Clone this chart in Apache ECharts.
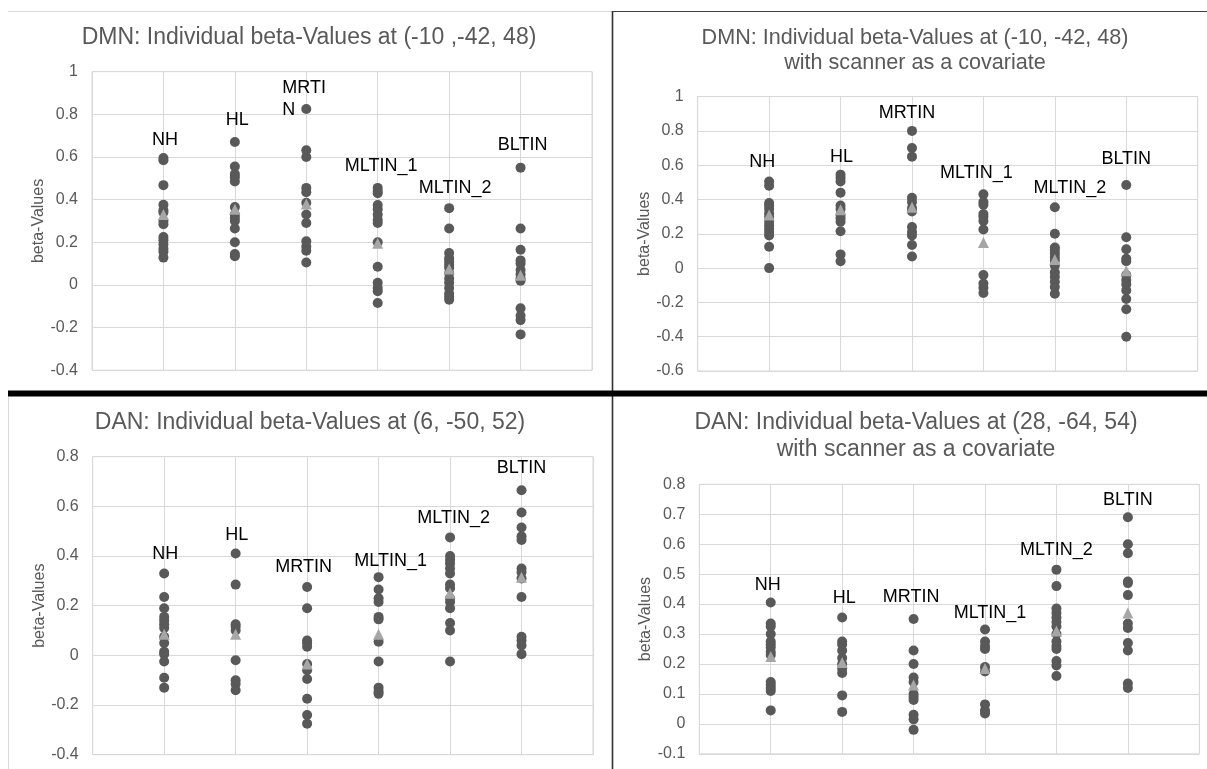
<!DOCTYPE html>
<html><head><meta charset="utf-8">
<script src="https://cdn.jsdelivr.net/npm/echarts@6/dist/echarts.min.js"></script>
<style>html,body{margin:0;padding:0;background:#fff}#c{width:1207px;height:769px}</style>
</head><body><div id="c"></div>
<script>
// ---------------- DATA ----------------
const categories = ['NH', 'HL', 'MRTIN', 'MLTIN_1', 'MLTIN_2', 'BLTIN'];
const yAxisName = 'beta-Values';

// Panel 1: DMN (-10, -42, 48)
const p1Title = 'DMN: Individual beta-Values at (-10 ,-42, 48)';
const p1LabelText = ['NH', 'HL', 'MRTI\nN', 'MLTIN_1', 'MLTIN_2', 'BLTIN'];
const p1Betas = [
  [0.595, 0.585, 0.468, 0.376, 0.35, 0.34, 0.30, 0.285, 0.225, 0.21, 0.19, 0.17, 0.155, 0.128],
  [0.67, 0.555, 0.52, 0.505, 0.485, 0.365, 0.33, 0.315, 0.30, 0.265, 0.2, 0.145, 0.135],
  [0.825, 0.632, 0.60, 0.455, 0.435, 0.385, 0.33, 0.29, 0.205, 0.18, 0.16, 0.105],
  [0.455, 0.44, 0.43, 0.375, 0.355, 0.33, 0.305, 0.29, 0.2, 0.085, 0.01, -0.015, -0.03, -0.085],
  [0.36, 0.265, 0.15, 0.125, 0.11, 0.095, 0.08, 0.055, 0.03, 0.01, -0.015, -0.04, -0.055, -0.07],
  [0.55, 0.265, 0.165, 0.115, 0.1, 0.07, 0.05, 0.03, 0.02, -0.11, -0.145, -0.165, -0.232]
];
const p1Means = [0.33, 0.355, 0.38, 0.195, 0.075, 0.045];
const p1YTicks = { min: -0.4, max: 1, interval: 0.2 };

// Panel 2: DMN (-10, -42, 48) with scanner covariate
const p2Title = 'DMN: Individual beta-Values at (-10, -42, 48)\nwith scanner as a covariate';
const p2Betas = [
  [0.505, 0.48, 0.38, 0.365, 0.345, 0.32, 0.30, 0.27, 0.25, 0.23, 0.21, 0.19, 0.125, 0.0],
  [0.545, 0.525, 0.505, 0.44, 0.365, 0.345, 0.31, 0.29, 0.27, 0.215, 0.08, 0.04],
  [0.8, 0.7, 0.65, 0.41, 0.385, 0.35, 0.33, 0.24, 0.21, 0.19, 0.135, 0.068],
  [0.43, 0.385, 0.37, 0.315, 0.3, 0.275, 0.225, -0.04, -0.09, -0.115, -0.145],
  [0.355, 0.2, 0.12, 0.105, 0.085, 0.065, 0.045, 0.015, -0.025, -0.05, -0.08, -0.11, -0.15],
  [0.485, 0.18, 0.11, 0.055, 0.04, -0.04, -0.07, -0.095, -0.13, -0.18, -0.24, -0.4]
];
const p2Means = [0.31, 0.34, 0.355, 0.15, 0.05, -0.015];
const p2YTicks = { min: -0.6, max: 1, interval: 0.2 };

// Panel 3: DAN (6, -50, 52)
const p3Title = 'DAN: Individual beta-Values at (6, -50, 52)';
const p3Betas = [
  [0.33, 0.235, 0.19, 0.155, 0.14, 0.125, 0.11, 0.075, 0.05, 0.015, 0.005, -0.025, -0.09, -0.13],
  [0.41, 0.285, 0.125, 0.115, 0.1, -0.02, -0.1, -0.115, -0.14],
  [0.275, 0.19, 0.06, 0.05, 0.035, -0.035, -0.06, -0.095, -0.175, -0.24, -0.275],
  [0.315, 0.265, 0.23, 0.215, 0.155, 0.145, 0.055, -0.025, -0.13, -0.145, -0.155],
  [0.475, 0.4, 0.385, 0.37, 0.35, 0.33, 0.285, 0.27, 0.23, 0.215, 0.19, 0.13, 0.1, -0.025],
  [0.665, 0.575, 0.515, 0.48, 0.465, 0.35, 0.335, 0.31, 0.235, 0.075, 0.06, 0.04, 0.005]
];
const p3Means = [0.085, 0.085, -0.035, 0.085, 0.25, 0.315];
const p3YTicks = { min: -0.4, max: 0.8, interval: 0.2 };

// Panel 4: DAN (28, -64, 54) with scanner covariate
const p4Title = 'DAN: Individual beta-Values at (28, -64, 54)\nwith scanner as a covariate';
const p4Betas = [
  [0.405, 0.335, 0.325, 0.3, 0.275, 0.265, 0.255, 0.24, 0.23, 0.14, 0.13, 0.12, 0.11, 0.045],
  [0.355, 0.275, 0.265, 0.245, 0.22, 0.2, 0.185, 0.17, 0.095, 0.04],
  [0.35, 0.245, 0.2, 0.155, 0.14, 0.1, 0.09, 0.08, 0.03, 0.015, -0.02],
  [0.315, 0.275, 0.26, 0.25, 0.19, 0.175, 0.065, 0.045, 0.035],
  [0.515, 0.46, 0.385, 0.37, 0.355, 0.34, 0.325, 0.3, 0.275, 0.26, 0.25, 0.21, 0.195, 0.16],
  [0.69, 0.6, 0.57, 0.475, 0.47, 0.43, 0.335, 0.32, 0.27, 0.245, 0.135, 0.12]
];
const p4Means = [0.225, 0.205, 0.13, 0.185, 0.31, 0.37];
const p4YTicks = { min: -0.1, max: 0.8, interval: 0.1 };

// ---------------- LAYOUT / STYLE ----------------
const FONT = '"Liberation Sans", Arial, sans-serif';
const GRAY_TXT = '#595959';
const GRID_C = '#d9d9d9';
const DOT_C = '#595959';
const MEAN_C = '#a6a6a6';

const panels = [
  { title: p1Title, titleX: 309, titleY: 24, titleLH: 27, titleFS: 23,
    grid: { left: 92, top: 71.7, width: 500, height: 298.5 },
    betas: p1Betas, means: p1Means, ticks: p1YTicks, labels: p1LabelText,
    offs: [[1.5, -18], [2.5, -22], null, [3.5, -22], [6, -20], [2, -23]] },
  { title: p2Title, titleX: 915, titleY: 25.5, titleLH: 25, titleFS: 21.6,
    grid: { left: 697.7, top: 96.6, width: 500, height: 274.4 },
    betas: p2Betas, means: p2Means, ticks: p2YTicks, labels: categories,
    offs: [[-7, -19.5], [1, -18], [-5, -18], [-7, -21.5], [15, -19], [0, -26]] },
  { title: p3Title, titleX: 310, titleY: 409.5, titleLH: 27, titleFS: 23,
    grid: { left: 92.7, top: 456.7, width: 500.3, height: 298 },
    betas: p3Betas, means: p3Means, ticks: p3YTicks, labels: categories,
    offs: [[1, -19.5], [1, -18.5], [-3.5, -20], [12, -16], [3.5, -19.5], [0, -22]] },
  { title: p4Title, titleX: 916, titleY: 409.5, titleLH: 27, titleFS: 23,
    grid: { left: 699.3, top: 484.3, width: 500, height: 269.5 },
    betas: p4Betas, means: p4Means, ticks: p4YTicks, labels: categories,
    offs: [[-3, -17.5], [2, -19.5], [-2.5, -22], [5, -16], [0, -19.5], [0, -17]] }
];

const option = {
  animation: false,
  backgroundColor: '#fff',
  textStyle: { fontFamily: FONT },
  title: [], grid: [], xAxis: [], yAxis: [], series: [],
  graphic: [
    { type: 'line', shape: { x1: 8, y1: 11.5, x2: 612, y2: 11.5 }, style: { stroke: GRID_C, lineWidth: 1 }, silent: true },
    { type: 'line', shape: { x1: 8.5, y1: 397, x2: 8.5, y2: 769 }, style: { stroke: GRID_C, lineWidth: 1 }, silent: true },
    { type: 'line', shape: { x1: 612, y1: 11.5, x2: 1207, y2: 11.5 }, style: { stroke: '#404040', lineWidth: 1.2 }, silent: true },
    { type: 'line', shape: { x1: 612.5, y1: 11, x2: 612.5, y2: 769 }, style: { stroke: '#303030', lineWidth: 1.6 }, silent: true },
    { type: 'rect', shape: { x: 8, y: 390.5, width: 1199, height: 6 }, style: { fill: '#000' }, silent: true }
  ]
};

panels.forEach((p, i) => {
  option.title.push({
    text: p.title, left: p.titleX, top: p.titleY, textAlign: 'center', padding: 0,
    textStyle: { fontFamily: FONT, fontSize: p.titleFS, fontWeight: 'normal', color: GRAY_TXT, lineHeight: p.titleLH }
  });
  option.grid.push(Object.assign({ show: true, borderColor: GRID_C, borderWidth: 1, containLabel: false }, p.grid));
  option.xAxis.push({
    type: 'value', gridIndex: i, min: 0, max: categories.length + 1, interval: 1,
    axisLine: { show: false }, axisTick: { show: false }, axisLabel: { show: false },
    splitLine: { show: true, lineStyle: { color: GRID_C, width: 1 } }
  });
  option.yAxis.push({
    type: 'value', gridIndex: i, min: p.ticks.min, max: p.ticks.max, interval: p.ticks.interval,
    name: yAxisName, nameLocation: 'middle', nameGap: 45,
    nameTextStyle: { fontFamily: FONT, fontSize: 16, color: GRAY_TXT },
    axisLine: { show: false }, axisTick: { show: false },
    axisLabel: { fontFamily: FONT, fontSize: 16, color: GRAY_TXT, margin: 14 },
    splitLine: { show: true, lineStyle: { color: GRID_C, width: 1 } }
  });

  const dots = [];
  p.betas.forEach((vals, ci) => {
    const top = Math.max.apply(null, vals);
    let labeled = false;
    vals.forEach(v => {
      const item = { value: [ci + 1, v] };
      if (!labeled && v === top) {
        labeled = true;
        const off = p.offs[ci];
        if (off) {
          item.label = { show: true, position: 'inside', offset: off, formatter: p.labels[ci],
            fontFamily: FONT, fontSize: 18, color: '#000', align: 'center', verticalAlign: 'middle' };
        } else {
          item.label = { show: true, position: 'inside', offset: [-24, -10], formatter: p.labels[ci],
            fontFamily: FONT, fontSize: 18, color: '#000', align: 'left', verticalAlign: 'middle', lineHeight: 22 };
        }
      }
      dots.push(item);
    });
  });
  option.series.push({
    type: 'scatter', xAxisIndex: i, yAxisIndex: i, symbol: 'circle', symbolSize: 10,
    itemStyle: { color: DOT_C, opacity: 1 }, data: dots, z: 3,
    emphasis: { disabled: true }, silent: true
  });
  option.series.push({
    type: 'scatter', xAxisIndex: i, yAxisIndex: i, symbol: 'triangle', symbolSize: 11,
    itemStyle: { color: MEAN_C, opacity: 1 }, data: p.means.map((m, ci) => [ci + 1, m]), z: 4,
    emphasis: { disabled: true }, silent: true
  });
});

const chart = echarts.init(document.getElementById('c'), null, { renderer: 'canvas' });
chart.setOption(option);
</script>
</body></html>
